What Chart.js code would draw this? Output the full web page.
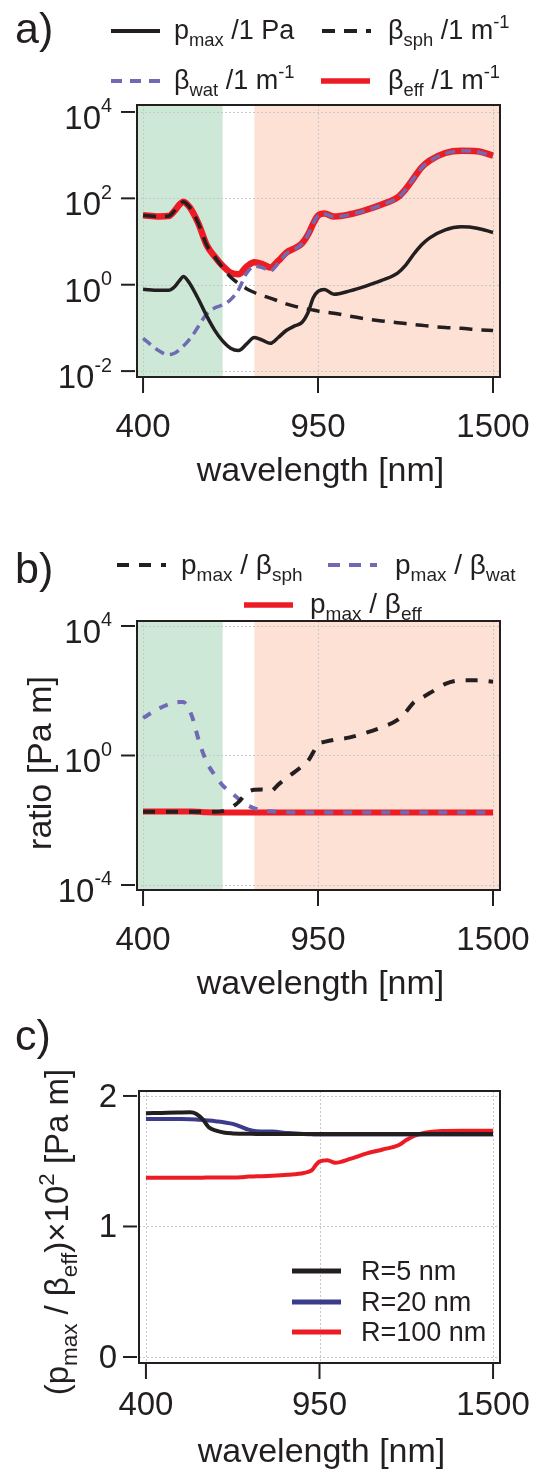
<!DOCTYPE html>
<html>
<head>
<meta charset="utf-8">
<script src="https://cdn.jsdelivr.net/npm/chart.js@4.4.1/dist/chart.umd.min.js"></script>
<style>
  body { margin: 0; background: #fff; width: 544px; height: 1472px; position: relative; overflow: hidden; }
  canvas { position: absolute; left: 0; }
</style>
</head>
<body>
<canvas id="panel_a" width="544" height="510" style="top:0px"></canvas>
<canvas id="panel_b" width="544" height="500" style="top:516px"></canvas>
<canvas id="panel_c" width="544" height="462" style="top:1010px"></canvas>
<script>
// ---- data ----
const lamAB = [400, 450, 480, 500, 515, 527, 540, 555, 575, 600, 625, 650, 675, 700, 725, 750, 775, 800, 825, 850,
               875, 900, 920, 935, 950, 970, 1000, 1050, 1100, 1150, 1200, 1225, 1250, 1275, 1300, 1350, 1400, 1450, 1500];

// panel a
const pMax    = [0.79, 0.74, 0.74, 0.91, 1.26, 1.55, 1.26, 0.85, 0.45, 0.19, 0.089, 0.050, 0.034, 0.030, 0.042, 0.060, 0.052, 0.044, 0.060, 0.087,
                 0.11, 0.135, 0.24, 0.50, 0.70, 0.78, 0.60, 0.72, 0.93, 1.26, 1.86, 2.8, 5.0, 8.3, 12.0, 18.6, 21.9, 20.4, 16.2];
const betaSph = [40.7, 38.0, 38.9, 52.5, 72.4, 83.2, 70.8, 50.1, 25.1, 8.3, 4.47, 2.51, 1.51, 1.07, 0.81, 0.66, 0.56, 0.49, 0.42, 0.36,
                 0.32, 0.29, 0.27, 0.26, 0.245, 0.234, 0.219, 0.186, 0.162, 0.145, 0.132, 0.126, 0.120, 0.115, 0.110, 0.102, 0.098, 0.091, 0.087];
const betaWat = [0.0575, 0.0295, 0.024, 0.0263, 0.0316, 0.038, 0.0479, 0.066, 0.112, 0.21, 0.29, 0.34, 0.45, 0.76, 1.82, 2.69, 2.51, 2.09, 3.16, 5.25,
                 6.6, 8.9, 15.1, 26.3, 39.8, 43.6, 37.2, 41.7, 52.5, 70.8, 102, 158, 282, 501, 724, 1096, 1259, 1202, 955];
const betaEff = [40.7, 38.0, 38.9, 52.5, 72.4, 83.2, 70.8, 50.1, 25.1, 8.3, 4.5, 2.75, 1.91, 1.74, 2.6, 3.31, 3.02, 2.51, 3.55, 5.5,
                 6.9, 9.1, 15.1, 26.3, 39.8, 44.7, 38.0, 42.7, 53.7, 72.4, 105, 162, 288, 513, 741, 1122, 1259, 1230, 977];

// panel b
const ratioSph = [0.0182, 0.0182, 0.0182, 0.0182, 0.0182, 0.0182, 0.0182, 0.0182, 0.0182, 0.0182, 0.0182, 0.0191, 0.024, 0.0363, 0.069, 0.087, 0.089, 0.079, 0.126, 0.20,
                  0.30, 0.47, 0.71, 1.26, 2.29, 2.63, 3.02, 3.63, 5.0, 7.4, 12.6, 21.4, 42.7, 60, 83, 162, 209, 209, 191];
const ratioWat = [14.5, 28.2, 38.0, 42.7, 44.7, 44.7, 31.6, 15.1, 2.95, 0.63, 0.25, 0.12, 0.074, 0.046, 0.030, 0.0234, 0.0204, 0.019, 0.0182, 0.0178,
                  0.0174, 0.0174, 0.0174, 0.0174, 0.0174, 0.0174, 0.0174, 0.0174, 0.0174, 0.0174, 0.0174, 0.0174, 0.0174, 0.0174, 0.0174, 0.0174, 0.0174, 0.0174, 0.0174];
const ratioEff = [0.0187, 0.0187, 0.0187, 0.0187, 0.0187, 0.0187, 0.0187, 0.0186, 0.0182, 0.0177, 0.0174, 0.0172, 0.0172, 0.0172, 0.0172, 0.0172, 0.0172, 0.0172, 0.0172, 0.0172,
                  0.0172, 0.0172, 0.0172, 0.0172, 0.0172, 0.0172, 0.0172, 0.0172, 0.0172, 0.0172, 0.0172, 0.0172, 0.0172, 0.0172, 0.0172, 0.0172, 0.0172, 0.0172, 0.0172];

// panel c
const lamC = [400, 450, 500, 540, 560, 580, 600, 625, 650, 675, 700, 725, 750, 800, 850, 900, 925, 940, 950, 975,
              1000, 1050, 1100, 1150, 1200, 1225, 1250, 1300, 1350, 1400, 1450, 1500];
const r5   = [1.867, 1.870, 1.873, 1.875, 1.862, 1.820, 1.758, 1.732, 1.718, 1.713, 1.711, 1.710, 1.709, 1.709, 1.709, 1.709, 1.709, 1.709, 1.709, 1.709,
              1.709, 1.709, 1.709, 1.709, 1.709, 1.709, 1.709, 1.709, 1.709, 1.709, 1.709, 1.709];
const r20  = [1.824, 1.824, 1.823, 1.822, 1.820, 1.816, 1.812, 1.805, 1.797, 1.786, 1.765, 1.742, 1.730, 1.727, 1.716, 1.708, 1.706, 1.704, 1.704, 1.704,
              1.704, 1.704, 1.704, 1.704, 1.704, 1.704, 1.704, 1.704, 1.704, 1.704, 1.704, 1.704];
const r100 = [1.374, 1.374, 1.374, 1.374, 1.374, 1.374, 1.375, 1.375, 1.375, 1.376, 1.378, 1.382, 1.384, 1.388, 1.396, 1.41, 1.43, 1.475, 1.497, 1.508,
              1.488, 1.52, 1.56, 1.59, 1.622, 1.662, 1.695, 1.724, 1.732, 1.734, 1.734, 1.734];
const radiusLabels = ['R=5 nm', 'R=20 nm', 'R=100 nm'];

// ticks
const xTicks = [400, 950, 1500];
const xTickLabels = ['400', '950', '1500'];
const yTicksA = [0.01, 1, 100, 10000];
const yExpA = ['-2', '0', '2', '4'];
const yTicksB = [0.0001, 1, 10000];
const yExpB = ['-4', '0', '4'];
const yTicksC = [0, 1, 2];
const yLabelsC = ['0', '1', '2'];
const bandEdges = [650, 750];

// ---- styles ----
const FONT = '"Liberation Sans", Arial, Helvetica, sans-serif';
const INK = '#231f20';
const GRID = '#c8c8c8';
const GREEN = '#cde8d7';
const PEACH = '#fde1d4';
const RED = '#ed1c24';
const LAVENDER = '#6f6ab3';
const NAVY = '#3c3c8c';

function pts(xs, ys) { return xs.map((x, i) => ({ x: x, y: ys[i] })); }

// text with sub/superscripts: segs = [[text, kind]]
function richWidth(ctx, segs, size, small) {
  let w = 0;
  for (const [t, k] of segs) {
    ctx.font = (k ? size * small : size).toFixed(1) + 'px ' + FONT;
    w += ctx.measureText(t).width;
  }
  return w;
}
function drawRich(ctx, segs, x, y, size, align, o) {
  o = Object.assign({ small: 0.68, sub: 0.26, sup: 0.42 }, o || {});
  let cx = x;
  const w = richWidth(ctx, segs, size, o.small);
  if (align === 'center') cx = x - w / 2;
  else if (align === 'right') cx = x - w;
  ctx.textAlign = 'left';
  ctx.textBaseline = 'alphabetic';
  for (const [t, k] of segs) {
    ctx.font = (k ? size * o.small : size).toFixed(1) + 'px ' + FONT;
    const dy = k === 'sub' ? size * o.sub : k === 'sup' ? -size * o.sup : 0;
    ctx.fillText(t, cx, y + dy);
    cx += ctx.measureText(t).width;
  }
}
function seg(ctx, x1, y1, x2, y2) { ctx.beginPath(); ctx.moveTo(x1, y1); ctx.lineTo(x2, y2); ctx.stroke(); }

function deco(cfg) {
  return {
    id: 'deco',
    beforeDatasetsDraw(chart) {
      const { ctx, chartArea: a } = chart;
      const x = chart.scales.x, y = chart.scales.y;
      ctx.save();
      if (cfg.bands) {
        const x1 = x.getPixelForValue(cfg.bands[0]);
        const x2 = x.getPixelForValue(cfg.bands[1]);
        ctx.fillStyle = GREEN;
        ctx.fillRect(a.left, a.top, x1 - a.left, a.bottom - a.top);
        ctx.fillStyle = PEACH;
        ctx.fillRect(x2, a.top, a.right - x2, a.bottom - a.top);
      }
      ctx.strokeStyle = GRID;
      ctx.lineWidth = 1;
      ctx.setLineDash([2, 2]);
      for (const v of xTicks) {
        const px = Math.round(x.getPixelForValue(v)) + 0.5;
        seg(ctx, px, a.top, px, a.bottom);
      }
      for (const v of cfg.yTicks) {
        const py = Math.round(y.getPixelForValue(v)) + 0.5;
        seg(ctx, a.left, py, a.right, py);
      }
      ctx.restore();
    },
    afterDraw(chart) {
      const { ctx, chartArea: a } = chart;
      const x = chart.scales.x, y = chart.scales.y;
      ctx.save();
      ctx.strokeStyle = INK;
      ctx.fillStyle = INK;
      ctx.lineWidth = 2;
      ctx.setLineDash([]);
      ctx.strokeRect(a.left, a.top, a.right - a.left, a.bottom - a.top);
      // ticks
      xTicks.forEach((v, i) => {
        const px = x.getPixelForValue(v);
        seg(ctx, px, a.bottom + 1, px, a.bottom + 16);
        drawRich(ctx, [[xTickLabels[i]]], px, a.bottom + cfg.xLabelDy, cfg.tickSize, 'center');
      });
      cfg.yTicks.forEach((v, i) => {
        const py = y.getPixelForValue(v);
        seg(ctx, a.left - 16, py, a.left - 2, py);
        if (cfg.yExp) {
          drawRich(ctx, [['10'], [cfg.yExp[i], 'sup']], a.left - 25, py + 17, cfg.tickSize, 'right', { small: 0.6, sup: 0.5 });
        } else {
          drawRich(ctx, [[cfg.yLabels[i]]], a.left - 22, py + 11, cfg.tickSize, 'right');
        }
      });
      // axis titles
      drawRich(ctx, [['wavelength [nm]']], (a.left + a.right) / 2 + 2, cfg.xTitleY, 34, 'center');
      if (cfg.yTitle) {
        ctx.save();
        ctx.translate(cfg.yTitle.x, cfg.yTitle.y);
        ctx.rotate(-Math.PI / 2);
        drawRich(ctx, cfg.yTitle.segs, 0, 0, cfg.yTitle.size, 'center');
        ctx.restore();
      }
      // panel letter
      drawRich(ctx, [[cfg.letter]], 15, cfg.letterY, 43, 'left');
      // legend
      for (const e of cfg.legend) {
        ctx.save();
        ctx.strokeStyle = e.color;
        ctx.lineWidth = e.width;
        ctx.setLineDash(e.dash || []);
        seg(ctx, e.x, e.y, e.x + 49, e.y);
        ctx.restore();
        drawRich(ctx, e.segs, e.tx, e.y + e.dy, e.size, 'left');
      }
      ctx.restore();
    }
  };
}

function makeChart(id, datasets, cfg) {
  const canvas = document.getElementById(id);
  const H = canvas.height;
  return new Chart(canvas.getContext('2d'), {
    type: 'line',
    data: { datasets: datasets },
    options: {
      responsive: false,
      animation: false,
      devicePixelRatio: 1,
      layout: { padding: { left: 0, top: cfg.top, right: 544 - cfg.right, bottom: 0 } },
      plugins: { legend: { display: false }, tooltip: { enabled: false } },
      elements: {
        point: { radius: 0 },
        line: { cubicInterpolationMode: 'monotone', borderCapStyle: 'butt', borderJoinStyle: 'round' }
      },
      scales: {
        x: {
          type: 'linear', min: cfg.xMin, max: cfg.xMax,
          ticks: { display: false }, grid: { display: false }, border: { display: false },
          afterFit(s) { s.height = H - cfg.bottom; }
        },
        y: {
          type: cfg.yType, min: cfg.yMin, max: cfg.yMax,
          ticks: { display: false }, grid: { display: false }, border: { display: false },
          afterFit(s) { s.width = cfg.left; }
        }
      }
    },
    plugins: [deco(cfg)]
  });
}

// ---- panel a ----
makeChart('panel_a', [
  { label: 'p_max', data: pts(lamAB, pMax), borderColor: INK, borderWidth: 3.5 },
  { label: 'beta_sph', data: pts(lamAB, betaSph), borderColor: INK, borderWidth: 3.5, borderDash: [13, 9] },
  { label: 'beta_wat', data: pts(lamAB, betaWat), borderColor: LAVENDER, borderWidth: 3.5, borderDash: [10, 6] },
  { label: 'beta_eff', data: pts(lamAB, betaEff), borderColor: RED, borderWidth: 6.5 }
], {
  top: 105, bottom: 377, left: 137, right: 500,
  xMin: 381, xMax: 1522, yType: 'logarithmic', yMin: 0.0073, yMax: 14500,
  yTicks: yTicksA, yExp: yExpA, bands: bandEdges,
  tickSize: 33, xLabelDy: 60, xTitleY: 481, letter: 'a)', letterY: 43,
  legend: [
    { x: 111, y: 31, color: INK, width: 4, tx: 174, dy: 8, size: 27, segs: [['p'], ['max', 'sub'], [' /1 Pa']] },
    { x: 322, y: 31, color: INK, width: 4, dash: [13, 9], tx: 388, dy: 8, size: 27, segs: [['β'], ['sph', 'sub'], [' /1 m'], ['-1', 'sup']] },
    { x: 111, y: 81, color: LAVENDER, width: 4, dash: [11, 8], tx: 174, dy: 8, size: 27, segs: [['β'], ['wat', 'sub'], [' /1 m'], ['-1', 'sup']] },
    { x: 321, y: 81, color: RED, width: 5.5, tx: 388, dy: 8, size: 27, segs: [['β'], ['eff', 'sub'], [' /1 m'], ['-1', 'sup']] }
  ]
});

// ---- panel b ----
makeChart('panel_b', [
  { label: 'p_max/beta_sph', data: pts(lamAB, ratioSph), borderColor: INK, borderWidth: 4, borderDash: [12, 11] },
  { label: 'p_max/beta_wat', data: pts(lamAB, ratioWat), borderColor: LAVENDER, borderWidth: 4, borderDash: [9, 10] },
  { label: 'p_max/beta_eff', data: pts(lamAB, ratioEff), borderColor: RED, borderWidth: 6 }
], {
  top: 105, bottom: 374, left: 137, right: 500,
  xMin: 381, xMax: 1522, yType: 'logarithmic', yMin: 0.00007, yMax: 14260,
  yTicks: yTicksB, yExp: yExpB, bands: bandEdges,
  tickSize: 33, xLabelDy: 60, xTitleY: 478, letter: 'b)', letterY: 67,
  yTitle: { x: 51, y: 247, size: 34, segs: [['ratio [Pa m]']] },
  legend: [
    { x: 117, y: 49, color: INK, width: 4, dash: [12, 10], tx: 181, dy: 9, size: 28, segs: [['p'], ['max', 'sub'], [' / β'], ['sph', 'sub']] },
    { x: 328, y: 49, color: LAVENDER, width: 4, dash: [12, 9], tx: 395, dy: 9, size: 28, segs: [['p'], ['max', 'sub'], [' / β'], ['wat', 'sub']] },
    { x: 244, y: 89, color: RED, width: 5.5, tx: 310, dy: 8, size: 28, segs: [['p'], ['max', 'sub'], [' / β'], ['eff', 'sub']] }
  ]
});

// ---- panel c ----
makeChart('panel_c', [
  { label: radiusLabels[0], data: pts(lamC, r5), borderColor: INK, borderWidth: 4 },
  { label: radiusLabels[1], data: pts(lamC, r20), borderColor: NAVY, borderWidth: 4 },
  { label: radiusLabels[2], data: pts(lamC, r100), borderColor: RED, borderWidth: 4 }
], {
  top: 81, bottom: 353, left: 139, right: 500,
  xMin: 378, xMax: 1522, yType: 'linear', yMin: -0.046, yMax: 2.038,
  yTicks: yTicksC, yLabels: yLabelsC,
  tickSize: 33, xLabelDy: 52, xTitleY: 452, letter: 'c)', letterY: 40,
  yTitle: { x: 68, y: 222, size: 33, segs: [['(p'], ['max', 'sub'], [' / β'], ['eff', 'sub'], [')×10'], ['2', 'sup'], [' [Pa m]']] },
  legend: [
    { x: 292, y: 261, color: INK, width: 5, tx: 361, dy: 9, size: 27, segs: [[radiusLabels[0]]] },
    { x: 292, y: 292, color: NAVY, width: 5, tx: 361, dy: 9, size: 27, segs: [[radiusLabels[1]]] },
    { x: 292, y: 322, color: RED, width: 5, tx: 361, dy: 9, size: 27, segs: [[radiusLabels[2]]] }
  ]
});
</script>
</body>
</html>
